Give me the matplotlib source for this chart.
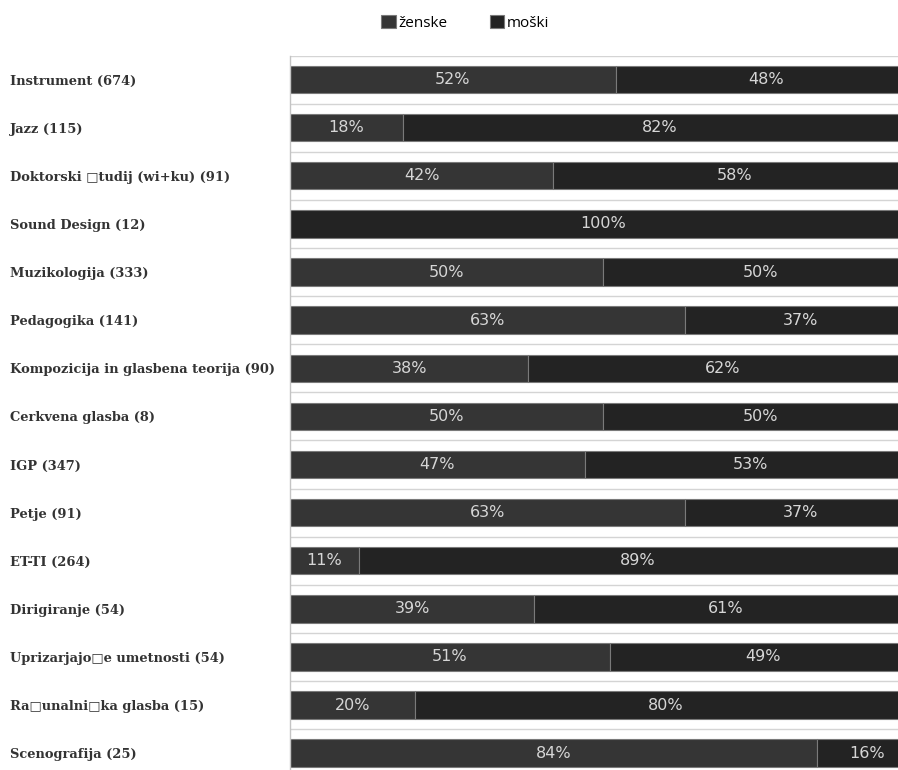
import matplotlib.pyplot as plt
import numpy as np

categories = [
    'Instrument (674)',
    'Jazz (115)',
    'Doktorski \u25a1tudij (wi+ku) (91)',
    'Sound Design (12)',
    'Muzikologija (333)',
    'Pedagogika (141)',
    'Kompozicija in glasbena teorija (90)',
    'Cerkvena glasba (8)',
    'IGP (347)',
    'Petje (91)',
    'ET-TI (264)',
    'Dirigiranje (54)',
    'Uprizarjajo\u25a1e umetnosti (54)',
    'Ra\u25a1unalni\u25a1ka glasba (15)',
    'Scenografija (25)',
]
zenske = [52, 18, 42, 0, 50, 63, 38, 50, 47, 63, 11, 39, 51, 20, 84]
moski = [48, 82, 58, 100, 50, 37, 62, 50, 53, 37, 89, 61, 49, 80, 16]
series_names = ['ženske', 'moški']

c_z = '#353535'
c_m = '#232323'

fig = plt.figure(figsize=(8.98, 7.70), dpi=100)
ax = fig.add_axes([290 / 898, 0.0, 1 - 290 / 898, 1 - 55.5 / 770])

y = np.arange(len(categories))
h = 0.57
b1 = ax.barh(y, zenske, height=h, color=c_z, edgecolor='#7a7a7a', linewidth=0.8, label=series_names[0])
b2 = ax.barh(y, moski, left=zenske, height=h, color=c_m, edgecolor='#7a7a7a', linewidth=0.8, label=series_names[1])

for i in range(len(categories)):
    if zenske[i] > 0:
        ax.text(zenske[i] / 2, y[i], f'{zenske[i]}%', ha='center', va='center',
                color='#d6d6d6', fontsize=11.5, family='DejaVu Sans')
    if moski[i] > 0:
        ax.text(zenske[i] + moski[i] / 2, y[i], f'{moski[i]}%', ha='center', va='center',
                color='#d6d6d6', fontsize=11.5, family='DejaVu Sans')

# light separators between rows
for g in np.arange(-0.5, len(categories) - 0.5, 1.0):
    ax.axhline(g, color='#d4d4d4', lw=1.0, zorder=0)

ax.set_xlim(0, 97)
ax.set_ylim(14.35, -0.5)
ax.set_xticks([])
ax.set_yticks(y)
ax.set_yticklabels(categories, ha='left', family='DejaVu Serif', fontsize=9.4,
                   fontweight='bold', color='#333333')
ax.tick_params(axis='y', length=0, pad=(290 - 10) * 0.72)
for s in ['top', 'right', 'bottom']:
    ax.spines[s].set_visible(False)
ax.spines['left'].set_color('#c4c4c4')
ax.spines['left'].set_linewidth(1.0)

fig.legend(handles=[b1, b2], labels=series_names, loc='center', bbox_to_anchor=(0.518, 0.97),
           ncol=2, frameon=False, handlelength=0.95, handleheight=0.95, handletextpad=0.15,
           columnspacing=2.8, prop={'family': 'Open Sans', 'size': 11})

fig.savefig('out.png', dpi=100)
